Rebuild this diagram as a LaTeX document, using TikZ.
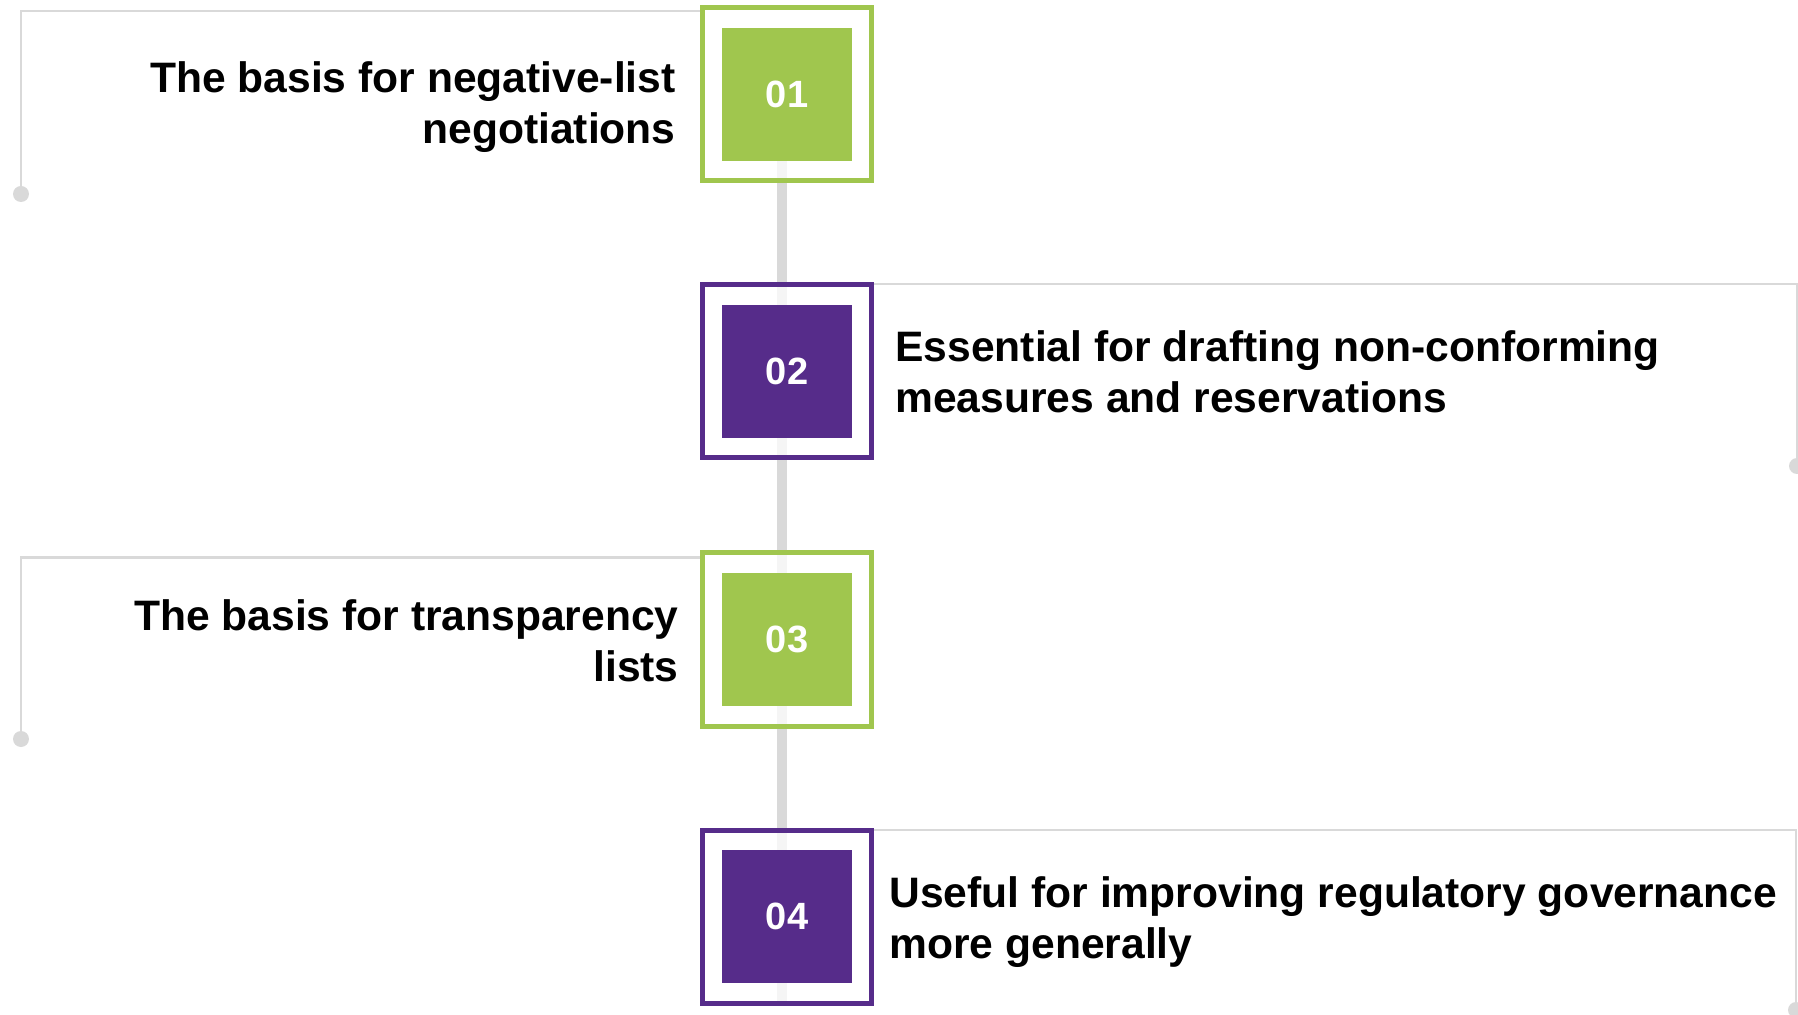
\documentclass[tikz,border=0pt]{standalone}
\usepackage{fontspec}
\setmainfont{Liberation Sans}
\usetikzlibrary{positioning,backgrounds}
\definecolor{leaf}{HTML}{A0C64E}
\definecolor{plum}{HTML}{562C8A}
\definecolor{rail}{HTML}{D9D9D9}

\begin{document}
\begin{tikzpicture}[x=0.5pt,y=-0.5pt,
    frame/.style={draw=#1,line width=2.5pt,fill=white,fill opacity=0.75,minimum width=84.5pt,minimum height=86.5pt},
    tile/.style={fill=#1,text=white,inner sep=0pt,minimum width=65pt,minimum height=66.5pt,font=\fontsize{19}{19}\selectfont\bfseries},
    blurb/.style={inner sep=0pt,align=#1,font=\fontsize{21.3}{25.5}\selectfont\bfseries},
    link/.style={draw=rail,line width=1pt},
    knob/.style={circle,fill=rail,inner sep=0pt,minimum size=8pt},
    spine/.style={draw=rail,line width=5pt}]
    \useasboundingbox (0,0) rectangle (1798,1015);

      \node[frame=leaf] (box1) at (787,94.5) {};
      \node[frame=plum, below=49.5pt of box1] (box2) {};
      \node[frame=leaf, below=45pt of box2] (box3) {};
      \node[frame=plum, below=49.5pt of box3] (box4) {};

      \node[tile=leaf] (num1) at (box1) {01};
      \node[tile=plum] (num2) at (box2) {02};
      \node[tile=leaf] (num3) at (box3) {03};
      \node[tile=plum] (num4) at (box4) {04};

      \node[blurb=right, below left=28pt and 12pt of box1.north west] (txt1) {The basis for negative-list\\negotiations};
      \node[blurb=left, below right=24pt and 10.5pt of box2.north east] (txt2) {Essential for drafting non-conforming\\measures and reservations};
      \node[blurb=right, below left=24.5pt and 10.5pt of box3.north west] (txt3) {The basis for transparency\\lists};
      \node[blurb=left, below right=24.5pt and 7.5pt of box4.north east] (txt4) {Useful for improving regulatory governance\\more generally};

      \node[knob] (knob1) at (21,194) {};
      \node[knob] (knob2) at (1797,466) {};
      \node[knob] (knob3) at (21,739) {};
      \node[knob] (knob4) at (1796,1010) {};

      \draw[link] ([yshift=-3pt]box1.north west) -| (knob1);
      \draw[link] ([yshift=-1pt]box2.north east) -| (knob2);
      \draw[link] ([yshift=-3.5pt]box3.north west) -| (knob3);
      \draw[link] ([yshift=-1pt]box4.north east) -| (knob4);

      \begin{scope}[on background layer]
        \draw[spine] ([xshift=-2.5pt]box1.center) -- ([xshift=-2.5pt]box4.south);
      \end{scope}
  \end{tikzpicture}
\end{document}
